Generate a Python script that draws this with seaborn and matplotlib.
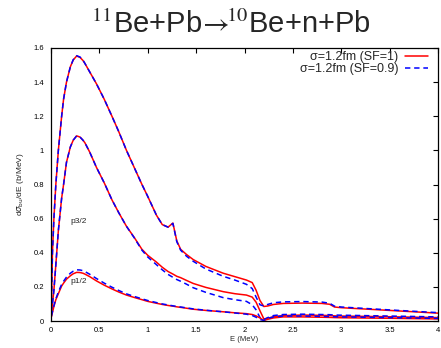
import numpy as np
import pandas as pd
import matplotlib
matplotlib.use('Agg')
import matplotlib.pyplot as plt
import seaborn as sns

# energy grid (MeV)
energy = [0.005, 0.015, 0.03, 0.05, 0.076, 0.11, 0.13, 0.16, 0.20, 0.23,
          0.265, 0.30, 0.33, 0.35, 0.40, 0.47, 0.55, 0.63, 0.70, 0.78,
          0.86, 0.94, 1.00, 1.09, 1.15, 1.21, 1.26, 1.30, 1.34, 1.40,
          1.47, 1.60, 1.78, 1.90, 2.02, 2.08, 2.12, 2.16, 2.20, 2.24,
          2.30, 2.40, 2.60, 2.80, 2.88, 2.93, 3.00, 3.50, 4.00]

# total, SF=1 / SF=0.9
total_sf1 = [0.12, 0.40, 0.60, 0.80, 1.00, 1.20, 1.30, 1.40, 1.49, 1.53,
             1.553, 1.545, 1.527, 1.51, 1.46, 1.39, 1.30, 1.20, 1.11, 1.00,
             0.90, 0.80, 0.73, 0.62, 0.565, 0.55, 0.574, 0.47, 0.42, 0.39,
             0.36, 0.32, 0.28, 0.26, 0.24, 0.225, 0.18, 0.12, 0.085, 0.088,
             0.097, 0.103, 0.105, 0.103, 0.098, 0.082, 0.078, 0.062, 0.046]
total_sf09 = [0.12, 0.40, 0.60, 0.80, 1.00, 1.20, 1.30, 1.40, 1.49, 1.532,
              1.555, 1.547, 1.53, 1.51, 1.46, 1.39, 1.30, 1.20, 1.11, 1.00,
              0.90, 0.80, 0.73, 0.62, 0.565, 0.55, 0.572, 0.465, 0.415, 0.38,
              0.35, 0.305, 0.262, 0.24, 0.215, 0.19, 0.14, 0.095, 0.088, 0.097,
              0.107, 0.112, 0.114, 0.111, 0.104, 0.087, 0.082, 0.065, 0.049]

# p3/2 component
p32_sf1 = [0.05, 0.10, 0.18, 0.33, 0.53, 0.72, 0.80, 0.93, 1.02, 1.06,
           1.085, 1.078, 1.06, 1.045, 0.99, 0.90, 0.81, 0.71, 0.635, 0.555,
           0.49, 0.42, 0.385, 0.345, 0.315, 0.29, 0.275, 0.262, 0.254, 0.238,
           0.22, 0.197, 0.172, 0.16, 0.152, 0.14, 0.11, 0.06, 0.012, 0.016,
           0.025, 0.032, 0.035, 0.033, 0.032, 0.03, 0.029, 0.025, 0.02]
p32_sf09 = [0.05, 0.10, 0.18, 0.33, 0.53, 0.72, 0.80, 0.93, 1.02, 1.06,
            1.085, 1.078, 1.06, 1.045, 0.99, 0.90, 0.81, 0.71, 0.635, 0.555,
            0.488, 0.415, 0.375, 0.33, 0.30, 0.273, 0.256, 0.243, 0.233, 0.216,
            0.195, 0.168, 0.137, 0.125, 0.115, 0.095, 0.065, 0.02, 0.008, 0.02,
            0.032, 0.038, 0.04, 0.038, 0.037, 0.035, 0.034, 0.029, 0.024]

# p1/2 component
p12_sf1 = [0.025, 0.05, 0.085, 0.125, 0.16, 0.205, 0.222, 0.245, 0.265, 0.277,
           0.285, 0.284, 0.28, 0.275, 0.26, 0.235, 0.21, 0.188, 0.17, 0.152,
           0.138, 0.125, 0.115, 0.104, 0.097, 0.091, 0.087, 0.083, 0.08, 0.075,
           0.069, 0.062, 0.054, 0.048, 0.043, 0.038, 0.03, 0.018, 0.003, 0.01,
           0.018, 0.024, 0.024, 0.022, 0.021, 0.02, 0.019, 0.016, 0.012]
p12_sf09 = [0.03, 0.055, 0.09, 0.13, 0.17, 0.215, 0.233, 0.257, 0.28, 0.292,
            0.30, 0.299, 0.295, 0.29, 0.274, 0.249, 0.222, 0.198, 0.179, 0.159,
            0.144, 0.13, 0.12, 0.108, 0.10, 0.094, 0.089, 0.085, 0.082, 0.077,
            0.071, 0.063, 0.054, 0.047, 0.04, 0.032, 0.022, 0.008, 0.004, 0.015,
            0.024, 0.029, 0.029, 0.027, 0.026, 0.025, 0.024, 0.02, 0.015]

xticks = [0, 0.5, 1, 1.5, 2, 2.5, 3, 3.5, 4]
xtick_labels = ['0', '0.5', '1', '1.5', '2', '2.5', '3', '3.5', '4']
yticks = [0, 0.2, 0.4, 0.6, 0.8, 1.0, 1.2, 1.4, 1.6]
ytick_labels = ['0', '0.2', '0.4', '0.6', '0.8', '1', '1.2', '1.4', '1.6']

label_sf1 = 'σ=1.2fm (SF=1)'
label_sf09 = 'σ=1.2fm (SF=0.9)'

sns.set_style('white')
plt.rcParams['font.family'] = ['Liberation Sans', 'DejaVu Sans']

fig = plt.figure(figsize=(4.41, 3.48), dpi=100)
ax = fig.add_axes([51/441, 1 - 321/348, 387/441, 273/348])

red = '#ff0000'
blue = '#0000ff'
lw = 1.1
dash = (0, (3.5, 2.5))

pairs = [(total_sf1, total_sf09), (p32_sf1, p32_sf09), (p12_sf1, p12_sf09)]
for i, (r, b) in enumerate(pairs):
    sns.lineplot(x=energy, y=r, ax=ax, color=red, lw=lw,
                 label=label_sf1 if i == 0 else None, legend=False)
    sns.lineplot(x=energy, y=b, ax=ax, color=blue, lw=lw, linestyle=dash,
                 label=label_sf09 if i == 0 else None, legend=False)

ax.set_xlim(0, 4)
ax.set_ylim(0, 1.6)
ax.set_xticks(xticks)
ax.set_xticklabels(xtick_labels)
ax.set_yticks(yticks)
ax.set_yticklabels(ytick_labels)
ax.tick_params(direction='in', top=True, right=True, length=3.5, width=0.8,
               labelsize=5.5, colors='black')
ax.tick_params(axis='y', pad=5)
ax.tick_params(axis='x', pad=4)
for s in ax.spines.values():
    s.set_linewidth(0.9)
    s.set_color('black')

ax.set_xlabel('E (MeV)', fontsize=5.5, labelpad=2)
ax.set_ylabel(r'd$\sigma_{\rm bu}$/dE (b/MeV)', fontsize=6, labelpad=5,
              math_fontfamily='dejavusans')

ax.text(0.2, 0.585, 'p3/2', fontsize=6, va='center', ha='left')
ax.text(0.2, 0.23, 'p1/2', fontsize=6, va='center', ha='left')

ax.legend(loc='upper right', bbox_to_anchor=(428/441, 1 - 51/348),
          bbox_transform=fig.transFigure, frameon=False, markerfirst=False,
          fontsize=9, handlelength=1.85, handletextpad=0.5, labelspacing=0.0,
          borderpad=0, borderaxespad=0)

fig.text(231/441, 1 - 33/348, r'$^{11}$Be+Pb$\!\rightarrow\!\!{}^{10}$Be+n+Pb',
         fontsize=21, ha='center', va='baseline', math_fontfamily='stix')

fig.savefig('out.png', dpi=100)
